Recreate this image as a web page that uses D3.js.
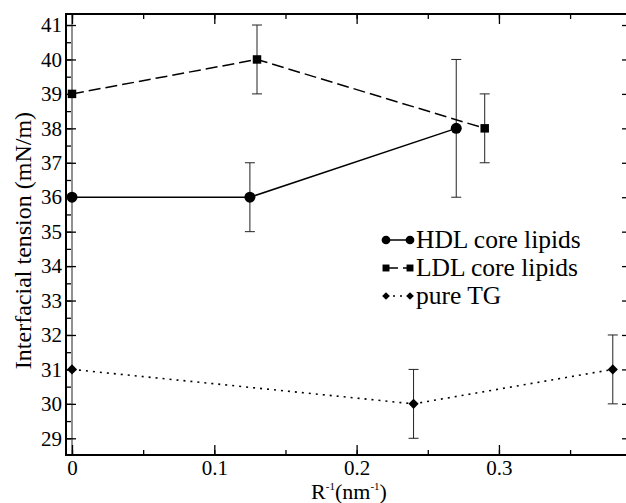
<!DOCTYPE html>
<html><head><meta charset="utf-8">
<script src="https://cdn.jsdelivr.net/npm/d3@7"></script>
<style>body{margin:0;background:#fff}svg{display:block}svg text{font-family:"Liberation Serif","Tinos","Times New Roman","DejaVu Serif",serif !important;fill:#000}</style>
</head><body>
<script>
// Data
const hdlX = [0, 0.125, 0.27];
const hdlY = [36, 36, 38];
const hdlErr = [8, 1, 2];
const ldlX = [0, 0.13, 0.29];
const ldlY = [39, 40, 38];
const ldlErr = [0, 1, 1];
const tgX = [0, 0.24, 0.38];
const tgY = [31, 30, 31];
const tgErr = [0, 1, 1];
const xTicks = [0, 0.1, 0.2, 0.3];
const yTicks = [29, 30, 31, 32, 33, 34, 35, 36, 37, 38, 39, 40, 41];
const legendLabels = ["HDL core lipids", "LDL core lipids", "pure TG"];

const FONT = '"Liberation Serif", "Tinos", "Times New Roman", "DejaVu Serif", serif';
const W = 626, H = 503;
const L = 66, R = 632, T = 14, B = 455;
const svg = d3.select("body").append("svg").attr("width", W).attr("height", H).attr("font-family", FONT);
const x = d3.scaleLinear().domain([-0.00422, 0.3935]).range([L, R]);
const y = d3.scaleLinear().domain([28.515, 41.32]).range([B, T]);

svg.append("defs").append("clipPath").attr("id", "clip")
  .append("rect").attr("x", L).attr("y", T).attr("width", R - L).attr("height", B - T);

const series = [
  {xs: hdlX, ys: hdlY, err: hdlErr, dash: null, sym: "circle"},
  {xs: ldlX, ys: ldlY, err: ldlErr, dash: "12,5", sym: "square"},
  {xs: tgX, ys: tgY, err: tgErr, dash: "2,5", sym: "diamond"}
];
const symSize = {circle: 95, square: 72, diamond: 52};
const symType = {circle: d3.symbolCircle, square: d3.symbolSquare, diamond: d3.symbolSquare};
const symRot = {circle: 0, square: 0, diamond: 45};

const plot = svg.append("g").attr("clip-path", "url(#clip)");
series.forEach(s => {
  const pts = s.xs.map((v, i) => [v, s.ys[i], s.err[i]]);
  pts.forEach(p => {
    if (!p[2]) return;
    const px = x(p[0]);
    const g = plot.append("g").attr("stroke", "#222").attr("stroke-width", 1);
    g.append("line").attr("x1", px).attr("x2", px).attr("y1", y(p[1] - p[2])).attr("y2", y(p[1] + p[2]));
    [p[1] - p[2], p[1] + p[2]].forEach(v => {
      g.append("line").attr("x1", px - 5).attr("x2", px + 5).attr("y1", y(v)).attr("y2", y(v));
    });
  });
  plot.append("path").datum(pts)
    .attr("d", d3.line().x(d => x(d[0])).y(d => y(d[1])))
    .attr("fill", "none").attr("stroke", "#000").attr("stroke-width", s.dash === "2,5" ? 1.6 : 1.5)
    .attr("stroke-dasharray", s.dash);
  plot.selectAll(null).data(pts).enter().append("path")
    .attr("d", d3.symbol().type(symType[s.sym]).size(symSize[s.sym]))
    .attr("transform", d => `translate(${x(d[0])},${y(d[1])}) rotate(${symRot[s.sym]})`)
    .attr("fill", "#000");
});

const yMinor = d3.range(28.5, 41.5, 0.5).filter(v => v >= 28.515 && v <= 41.32);
const xMinor = d3.range(0, 0.4, 0.05);
const axes = [];
const add = (tr, ax) => { const g = svg.append("g").attr("transform", tr).call(ax); axes.push(g); return g; };
add(`translate(${L},0)`, d3.axisRight(y).tickValues(yMinor).tickSize(5).tickFormat(""));
add(`translate(${L},0)`, d3.axisRight(y).tickValues(yTicks).tickSize(10).tickFormat(""));
add(`translate(${L},0)`, d3.axisLeft(y).tickValues(yTicks).tickSize(0).tickPadding(4).tickFormat(d3.format("d")));
add(`translate(${R},0)`, d3.axisLeft(y).tickValues(yMinor).tickSize(5).tickFormat(""));
add(`translate(${R},0)`, d3.axisLeft(y).tickValues(yTicks).tickSize(10).tickFormat(""));
add(`translate(0,${B})`, d3.axisTop(x).tickValues(xMinor).tickSize(5).tickFormat(""));
add(`translate(0,${B})`, d3.axisTop(x).tickValues(xTicks).tickSize(10).tickFormat(""));
add(`translate(0,${B})`, d3.axisBottom(x).tickValues(xTicks).tickSize(0).tickPadding(5).tickFormat(d => d === 0 ? "0" : d3.format(".1f")(d)));
add(`translate(0,${T})`, d3.axisBottom(x).tickValues(xMinor).tickSize(5).tickFormat(""));
add(`translate(0,${T})`, d3.axisBottom(x).tickValues(xTicks).tickSize(10).tickFormat(""));
axes.forEach(g => {
  g.attr("font-family", FONT);
  g.select(".domain").remove();
  g.selectAll("line").attr("stroke", "#000").attr("stroke-width", 1.3);
  g.selectAll("text").style("font-size", "21px").style("font-family", FONT).attr("fill", "#000");
});
svg.append("rect").attr("x", L).attr("y", T).attr("width", R - L).attr("height", B - T)
  .attr("fill", "none").attr("stroke", "#000").attr("stroke-width", 2);

svg.append("text").attr("transform", `translate(31,${(T + B) / 2 + 6}) rotate(-90)`)
  .attr("text-anchor", "middle").style("font-size", "24px").style("font-family", FONT).text("Interfacial tension (mN/m)");
const xl = svg.append("text").attr("x", (L + R) / 2).attr("y", 499).attr("text-anchor", "middle")
  .style("font-size", "22px").style("font-family", FONT);
xl.append("tspan").text("R");
xl.append("tspan").attr("dy", -9).style("font-size", "11px").text("-1");
xl.append("tspan").attr("dy", 9).text("(nm");
xl.append("tspan").attr("dy", -9).style("font-size", "11px").text("-1");
xl.append("tspan").attr("dy", 9).text(")");

const legY = [240, 268, 296];
const legSize = {circle: 60, square: 48, diamond: 30};
series.forEach((s, i) => {
  const g = svg.append("g").attr("transform", `translate(0,${legY[i]})`);
  g.append("line").attr("x1", 386).attr("x2", 410).attr("y1", 0).attr("y2", 0)
    .attr("stroke", "#000").attr("stroke-width", 1.5).attr("stroke-dasharray", s.dash);
  [386, 410].forEach(px => g.append("path")
    .attr("d", d3.symbol().type(symType[s.sym]).size(legSize[s.sym]))
    .attr("transform", `translate(${px},0) rotate(${symRot[s.sym]})`).attr("fill", "#000"));
  g.append("text").attr("x", 416).attr("y", 8).style("font-size", "25.5px").style("font-family", FONT).text(legendLabels[i]);
});
</script>
</body></html>
